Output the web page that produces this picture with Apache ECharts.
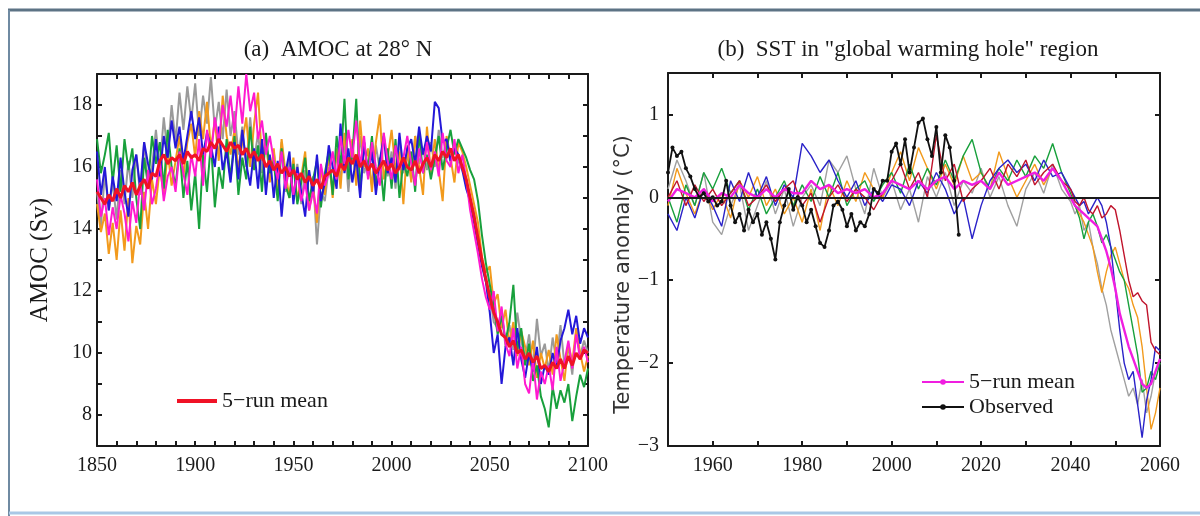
<!DOCTYPE html>
<html>
<head>
<meta charset="utf-8">
<title>AMOC at 28N and SST in warming hole</title>
<script src="https://cdn.jsdelivr.net/npm/echarts@6/dist/echarts.min.js"></script>
<style>
  html, body { margin: 0; padding: 0; background: #fff; }
  #chart { width: 1200px; height: 516px; }
</style>
</head>
<body>
<div id="chart"></div>
<script>
// (a) AMOC at 28N, one value every 2 years 1850-2100
var yearsA = [];
for (var y = 1850; y <= 2100; y += 2) yearsA.push(y);

var amocGray = [
  15.2,14.1,15.8,14.6,15.5, 14.3,15.9,14.8,16.2,15.0, 16.4,15.1,16.8,15.4,16.0,
  17.2,16.0,17.6,16.4,18.0, 16.8,18.4,17.2,18.6,17.5, 18.7,17.0,18.3,17.4,18.9,
  17.2,18.1,16.9,18.5,17.0, 17.8,16.4,17.3,16.0,17.6, 16.2,17.1,15.8,16.9,15.6,
  16.5,15.4,16.8,15.2,16.3, 15.0,16.1,14.8,15.9,14.6, 15.7,13.5,15.2,14.9,16.0,
  15.3,16.4,15.6,16.8,15.2, 16.6,15.5,17.0,15.8,16.2, 15.4,16.7,15.9,17.1,15.7,
  16.5,15.3,16.9,15.8,16.4, 15.6,17.0,16.1,16.6,15.9, 16.8,16.0,17.2,16.3,16.9,
  16.1,16.7,16.2,15.9,15.6, 15.0,14.5,13.7,13.0,12.3, 11.9,11.0,10.8,11.4,10.2,
  10.9,10.1,11.3,10.4,9.8, 10.6,9.5,11.1,9.9,10.3, 9.4,10.5,9.7,10.9,9.6,
  10.2,9.3,10.7,9.9,10.4, 10.0
];
var amocOrange = [
  14.8,13.9,14.5,13.2,14.2, 13.0,14.6,13.3,15.0,12.9, 14.1,13.5,15.2,14.0,15.6,
  14.8,16.0,15.1,16.5,15.4, 16.2,17.0,15.7,16.8,17.4, 16.3,17.8,16.9,18.1,16.6,
  17.5,16.2,18.3,17.0,16.4, 17.2,15.9,16.8,17.6,16.0, 17.4,18.4,16.2,17.0,15.5,
  16.6,15.2,16.9,15.8,15.0, 16.3,14.9,15.7,16.5,14.6, 15.4,14.2,16.0,15.1,16.4,
  15.0,16.6,15.3,17.1,15.8, 16.9,15.4,17.5,16.0,16.6, 15.2,16.8,17.7,15.6,16.3,
  17.2,15.9,16.5,14.8,16.7, 15.5,17.0,16.0,15.1,17.3, 15.8,16.9,15.9,14.9,17.0,
  16.3,15.5,16.8,16.5,16.0, 15.4,14.8,14.2,13.1,12.6, 12.8,11.6,11.9,10.8,11.4,
  10.3,11.0,9.9,10.7,10.2, 9.6,10.4,9.2,10.0,9.5, 10.1,9.3,10.6,9.8,9.1,
  10.3,9.7,10.8,10.0,9.4, 9.9
];
var amocGreen = [
  16.9,15.8,16.4,17.1,15.5, 16.7,15.2,16.9,15.9,16.6, 15.0,14.0,16.3,15.4,17.0,
  16.1,16.8,15.3,17.2,16.0, 15.4,16.6,15.0,16.2,14.6, 15.8,14.0,16.4,15.2,16.8,
  14.7,16.0,15.3,16.9,15.6, 17.0,15.1,16.3,15.6,17.3, 15.9,16.7,15.2,17.1,15.8,
  16.2,14.9,16.6,15.4,15.0, 16.1,14.8,15.5,16.3,14.9, 15.6,16.2,14.7,15.8,16.5,
  15.1,17.0,16.0,18.2,15.6, 16.4,18.2,15.2,16.8,15.9, 17.0,15.4,16.3,14.9,16.6,
  15.3,16.9,15.0,16.2,15.7, 16.5,15.2,17.1,15.8,16.4, 15.6,16.3,17.0,15.9,16.6,
  17.2,16.4,16.9,16.6,16.3, 15.9,15.6,14.9,13.8,12.9, 12.2,11.5,10.6,11.2,10.4,
  11.0,12.2,10.1,10.8,9.6, 10.3,9.1,9.6,8.6,8.2, 7.6,8.9,8.2,8.8,8.4,
  9.0,7.8,8.6,9.3,8.9, 9.5
];
var amocBlue = [
  16.5,15.1,16.0,14.6,15.7, 14.9,16.3,15.2,14.4,15.9, 16.4,15.3,16.8,16.1,15.6,
  16.9,15.7,17.0,16.3,17.5, 16.6,17.3,16.2,17.0,17.8, 16.9,17.6,16.4,17.1,16.7,
  16.0,17.3,15.9,16.5,15.5, 16.8,15.6,17.2,16.1,15.4, 16.6,15.3,16.9,15.1,16.4,
  15.0,16.2,14.4,15.8,16.5, 14.8,16.0,15.2,14.4,15.9, 15.1,16.4,14.9,15.5,16.7,
  16.0,15.3,17.4,15.8,16.6, 15.5,16.3,15.0,16.8,15.7, 16.5,15.1,16.2,17.0,15.8,
  16.3,15.5,17.1,15.9,16.6, 16.9,16.1,17.3,16.4,17.0, 16.5,18.1,17.9,16.8,16.9,
  16.2,16.6,16.4,15.9,15.3, 14.9,14.2,13.5,12.8,12.3, 11.3,10.0,10.6,9.0,10.2,
  10.5,9.6,10.8,9.8,9.2, 10.0,9.4,10.2,9.0,9.6, 9.3,10.0,9.5,10.4,10.8,
  11.4,10.6,11.2,10.3,10.8, 10.5
];
var amocMagenta = [
  15.6,14.4,15.0,13.8,14.7, 14.0,15.1,14.5,13.6,14.9, 14.2,15.5,14.6,15.9,14.8,
  15.3,16.2,14.9,15.7,16.0, 15.2,16.5,15.8,15.1,16.4, 15.7,16.9,15.4,17.2,16.3,
  17.6,16.8,18.0,17.3,18.3, 17.1,18.6,17.4,19.0,17.8, 18.4,16.9,17.5,16.4,17.0,
  16.2,15.6,16.5,15.3,16.0, 15.1,15.8,14.9,15.5,14.6, 15.2,14.5,16.1,15.4,15.8,
  16.5,15.6,17.0,16.1,17.2, 16.3,17.5,16.0,17.0,15.6, 16.8,16.0,15.4,17.1,16.2,
  15.6,16.7,15.9,16.3,17.0, 16.1,15.4,16.6,15.8,16.8, 15.9,16.5,15.7,17.1,16.2,
  16.0,16.9,15.8,16.4,15.6, 14.6,13.9,13.2,12.4,11.8, 11.4,12.0,10.7,11.5,10.3,
  9.9,10.8,9.5,10.2,9.0, 8.7,9.8,8.5,9.4,9.0, 9.6,8.8,10.2,9.1,9.7,
  10.4,9.5,10.6,9.8,10.2, 9.7
];
var amocMean = [
  15.2,15.0,14.8,15.1,14.9, 15.3,15.0,15.4,15.2,15.5, 15.1,15.4,15.6,15.3,15.8,
  15.7,16.2,16.4,16.1,16.3, 16.2,16.4,16.1,16.5,16.3, 16.4,16.2,16.6,16.5,16.8,
  16.6,16.9,16.7,16.5,16.8, 16.6,16.7,16.4,16.6,16.3, 16.5,16.2,16.4,16.0,16.2,
  15.9,16.1,15.8,16.0,15.7, 15.9,15.6,15.8,15.5,15.7, 15.4,15.6,15.3,15.7,15.8,
  15.9,15.7,16.1,15.9,16.3, 16.1,16.4,16.0,16.2,15.9, 16.1,15.8,16.0,16.2,15.9,
  16.1,15.8,16.0,16.3,16.0, 15.9,16.2,15.8,16.1,16.3, 16.0,16.4,16.2,16.5,16.3,
  16.6,16.2,16.4,16.0,15.6, 15.0,14.4,13.7,13.0,12.4, 11.8,11.3,11.0,10.6,10.5,
  10.2,10.4,10.0,10.1,9.8, 10.0,9.7,9.9,9.5,9.6, 9.4,9.7,9.5,9.8,9.5,
  9.9,9.6,10.0,9.8,10.1, 10.0
];

// (b) SST anomaly: every 2 years 1950-2040, then yearly to 2060
var yearsB = [];
for (var y = 1950; y <= 2040; y += 2) yearsB.push(y);
for (var y = 2041; y <= 2060; y++) yearsB.push(y);

var sstGray = [
  0.1,0.45,0.2,-0.1,0.3, -0.3,-0.45,-0.1,0.15,-0.4, -0.1,0.2,-0.2,0.1,-0.35,
  0.0,0.15,-0.1,0.45,0.3, 0.5,0.1,-0.2,0.35,0.0, 0.2,-0.15,0.1,-0.3,0.25,
  0.0,0.3,-0.1,0.2,0.05, 0.35,0.0,0.25,-0.1,-0.35, 0.1,0.3,0.05,0.4,0.1, -0.05,
  -0.2,-0.1,-0.4,-0.3,-0.6, -0.8,-1.1,-1.3,-1.6,-1.8, -2.0,-2.2,-2.4,-2.3,-2.5,
  -2.2,-2.6,-2.4,-2.1,-2.0
];
var sstOrange = [
  -0.1,0.35,0.05,-0.2,0.1, -0.15,0.05,-0.25,0.2,0.0, 0.25,-0.1,0.1,-0.2,0.0,
  -0.3,0.1,-0.4,0.15,-0.1, 0.2,-0.05,0.3,0.1,0.0, 0.3,0.55,0.2,0.6,0.35,
  0.1,0.4,0.15,0.5,0.2, 0.3,0.1,0.55,0.25,0.0, 0.2,0.4,0.15,0.35,0.2, 0.0,
  -0.1,-0.2,-0.3,-0.45,-0.6, -0.9,-1.15,-0.9,-0.7,-0.6, -0.8,-1.0,-1.1,-1.3,-1.45,
  -1.8,-2.3,-2.8,-2.6,-2.3
];
var sstGreen = [
  0.0,-0.3,0.15,-0.1,0.3, 0.1,0.35,0.05,0.2,-0.15, 0.1,-0.2,0.0,0.2,-0.1,
  0.15,-0.05,0.25,0.0,0.3, -0.1,0.1,0.2,-0.05,0.15, 0.3,0.05,0.4,0.1,0.35,
  0.15,0.45,0.2,0.5,0.7, 0.3,0.1,0.35,0.2,0.45, 0.25,0.5,0.35,0.65,0.3, 0.05,
  -0.1,-0.25,-0.5,-0.3,-0.2, -0.35,-0.55,-0.45,-0.6,-0.75, -0.9,-1.0,-1.3,-1.6,-1.9,
  -2.35,-2.3,-2.1,-2.2,-2.0
];
var sstBlue = [
  -0.2,-0.4,0.0,-0.25,0.1, -0.1,-0.35,0.2,-0.05,0.3, 0.0,0.25,-0.1,0.15,0.0,
  0.65,0.5,0.3,0.45,0.2, 0.0,0.2,-0.1,0.1,-0.05, 0.15,0.1,-0.1,0.2,0.05,
  0.3,0.1,-0.2,0.0,-0.5, -0.1,0.2,0.35,0.45,0.3, 0.4,0.2,0.45,0.25,0.3, 0.1,
  0.0,-0.1,-0.05,-0.2,-0.1, 0.0,-0.1,-0.3,-0.6,-1.1, -1.6,-2.0,-2.2,-2.1,-2.5,
  -2.9,-2.45,-2.2,-1.8,-1.85
];
var sstRed = [
  0.0,0.2,-0.1,0.15,-0.05, 0.1,-0.1,0.05,0.2,-0.1, 0.0,0.15,-0.05,0.1,0.2,
  -0.1,0.05,-0.3,0.0,0.15, -0.05,0.1,0.0,-0.15,0.05, 0.2,0.4,0.1,0.3,0.0,
  0.75,0.2,0.4,-0.05,0.1, 0.2,0.35,0.1,0.4,0.25, 0.45,0.15,0.3,0.4,0.2, 0.1,
  -0.05,-0.1,0.0,-0.15,-0.2, -0.1,-0.25,-0.2,-0.1,-0.15, -0.4,-0.7,-1.0,-1.2,-1.15,
  -1.25,-1.3,-1.75,-1.85,-1.9
];
var sstMean = [
  -0.05,0.1,0.05,0.0,0.1, -0.05,0.05,0.0,0.15,0.05, 0.0,0.1,0.0,0.1,0.05,
  0.05,0.2,0.1,0.15,0.05, 0.1,0.05,0.1,0.0,0.05, 0.2,0.15,0.1,0.2,0.1,
  0.2,0.25,0.1,0.2,0.15, 0.2,0.1,0.3,0.15,0.2, 0.25,0.3,0.2,0.35,0.2, 0.0,
  -0.1,-0.15,-0.2,-0.25,-0.3, -0.35,-0.5,-0.65,-0.85,-1.1, -1.4,-1.6,-1.8,-1.95,-2.1,
  -2.25,-2.3,-2.25,-2.1,-1.95
];

// observed, yearly 1950-2015
var yearsObs = [];
for (var y = 1950; y <= 2015; y++) yearsObs.push(y);
var sstObserved = [
  0.3,0.6,0.5,0.55,0.35,0.25,0.1,0.0,0.05,-0.05,
  0.0,-0.1,-0.05,0.2,-0.1,-0.3,-0.2,-0.4,-0.15,-0.3,
  -0.2,-0.45,-0.3,-0.5,-0.75,-0.3,-0.1,0.1,-0.15,0.0,
  -0.1,-0.3,-0.15,-0.35,-0.55,-0.6,-0.4,-0.1,-0.05,-0.15,
  -0.35,-0.2,-0.4,-0.3,-0.35,-0.2,0.1,0.05,0.2,0.2,
  0.55,0.65,0.4,0.7,0.3,0.6,0.9,0.95,0.7,0.5,
  0.85,0.3,0.75,0.6,0.2,-0.45
];

var serif = 'Liberation Serif';
var ink = '#1a1a1a';

function pairs(xs, ys) {
  return xs.map(function (x, i) { return [x, ys[i]]; });
}
function minus(v) {
  return v < 0 ? '\u2212' + (-v) : '' + v;
}

// box frame: axis with inward ticks, optionally with labels
function boxAxis(grid, pos, min, max, interval, fmt) {
  return {
    gridIndex: grid, type: 'value', position: pos, min: min, max: max, interval: interval,
    axisLine: { show: true, onZero: false, lineStyle: { color: ink, width: 2 } },
    axisTick: { show: true, inside: true, length: 5, lineStyle: { color: ink, width: 2 } },
    axisLabel: fmt ? { formatter: fmt, color: ink, fontFamily: serif, fontSize: 20, margin: 8 } : { show: false },
    splitLine: { show: false }
  };
}

var xA = boxAxis(0, 'bottom', 1850, 2100, 10, function (v) { return v % 50 === 0 ? v : ''; });
xA.axisLabel.margin = 10;
var xB = boxAxis(1, 'bottom', 1950, 2060, 10, function (v) { return (v - 1960) % 20 === 0 ? v : ''; });
xB.axisLabel.margin = 10;
var yA = boxAxis(0, 'left', 7, 19, 1, function (v) { return v % 2 === 0 && v >= 8 && v <= 18 ? v : ''; });
yA.axisLabel.margin = 5;
yA.name = 'AMOC (Sv)';
yA.nameLocation = 'middle';
yA.nameGap = 44;
yA.nameTextStyle = { fontFamily: serif, fontSize: 25, color: ink };
var yB = boxAxis(1, 'left', -3, 1.5, 1, function (v) { return v % 1 === 0 ? minus(v) : ''; });
yB.axisLabel.margin = 9;
yB.name = 'Temperature anomaly (\u00b0C)';
yB.nameLocation = 'middle';
yB.nameGap = 30;
// padding on the far end pushes the rotated text down a little
yB.nameTextStyle = { fontFamily: 'DejaVu Sans', fontSize: 21, color: '#333', padding: [0, 30, 0, 0] };

function runA(name, color, values) {
  return {
    name: name, type: 'line', xAxisIndex: 0, yAxisIndex: 0, data: pairs(yearsA, values),
    symbol: 'none', lineStyle: { color: color, width: 2 }, itemStyle: { color: color }
  };
}
function runB(name, color, values) {
  return {
    name: name, type: 'line', xAxisIndex: 2, yAxisIndex: 2, data: pairs(yearsB, values),
    symbol: 'none', lineStyle: { color: color, width: 1.4 }, itemStyle: { color: color }
  };
}

var series = [
  runA('gray', '#9a9a9a', amocGray),
  runA('orange', '#f29a1c', amocOrange),
  runA('green', '#18a03c', amocGreen),
  runA('blue', '#2418d8', amocBlue),
  runA('magenta', '#ff1ad0', amocMagenta),
  {
    name: '5\u2212run mean', type: 'line', xAxisIndex: 0, yAxisIndex: 0, data: pairs(yearsA, amocMean),
    symbol: 'none', lineStyle: { color: '#f01226', width: 3 }, itemStyle: { color: '#f01226' }
  },
  runB('grayB', '#a0a0a0', sstGray),
  runB('orangeB', '#f29a1c', sstOrange),
  runB('greenB', '#18a03c', sstGreen),
  runB('blueB', '#2a22c8', sstBlue),
  runB('redB', '#c0142c', sstRed),
  {
    name: 'meanB', type: 'line', xAxisIndex: 2, yAxisIndex: 2, data: pairs(yearsB, sstMean),
    symbol: 'circle', symbolSize: 3, showSymbol: false,
    lineStyle: { color: '#f01ee0', width: 2.4 }, itemStyle: { color: '#f01ee0' },
    markLine: {
      silent: true, symbol: 'none', label: { show: false },
      lineStyle: { color: ink, width: 2, type: 'solid' },
      data: [{ yAxis: 0 }]
    }
  },
  {
    name: 'Observed', type: 'line', xAxisIndex: 2, yAxisIndex: 2, data: pairs(yearsObs, sstObserved),
    symbol: 'circle', symbolSize: 4, showSymbol: true,
    lineStyle: { color: '#111', width: 1.8 }, itemStyle: { color: '#111' }
  }
];

var chart = echarts.init(document.getElementById('chart'));
chart.setOption({
  animation: false,
  backgroundColor: '#fff',
  title: [
    { text: '(a)  AMOC at 28\u00b0 N', left: 333, top: 33, textAlign: 'center',
      textStyle: { fontFamily: serif, fontSize: 23, fontWeight: 'normal', color: ink } },
    { text: '(b)  SST in "global warming hole" region', left: 903, top: 33, textAlign: 'center',
      textStyle: { fontFamily: serif, fontSize: 23, fontWeight: 'normal', color: ink } }
  ],
  legend: [
    { data: [{ name: '5\u2212run mean', icon: 'rect' }], left: 172, top: 385, itemWidth: 40, itemHeight: 4, itemGap: 4,
      textStyle: { fontFamily: serif, fontSize: 22, color: ink } },
    { data: ['meanB', 'Observed'], orient: 'vertical', left: 916, top: 366, itemWidth: 42, itemHeight: 7, itemGap: 3,
      formatter: function (n) { return n === 'meanB' ? '5\u2212run mean' : n; },
      textStyle: { fontFamily: serif, fontSize: 22, color: ink } }
  ],
  grid: [
    { left: 97, top: 74, width: 491, height: 372 },
    { left: 668, top: 73, width: 492, height: 373 }
  ],
  xAxis: [
    xA,
    boxAxis(0, 'top', 1850, 2100, 10, null),
    xB,
    boxAxis(1, 'top', 1950, 2060, 10, null)
  ],
  yAxis: [
    yA,
    boxAxis(0, 'right', 7, 19, 1, null),
    yB,
    boxAxis(1, 'right', -3, 1.5, 1, null)
  ],
  graphic: [
    { type: 'line', shape: { x1: 8, y1: 10, x2: 1200, y2: 10 }, style: { stroke: '#5d7385', lineWidth: 3 } },
    { type: 'line', shape: { x1: 9, y1: 10, x2: 9, y2: 516 }, style: { stroke: '#6f8aa2', lineWidth: 2 } },
    { type: 'line', shape: { x1: 9, y1: 513, x2: 1200, y2: 513 }, style: { stroke: '#a9c8e6', lineWidth: 3 } }
  ],
  series: series
});
</script>
</body>
</html>
